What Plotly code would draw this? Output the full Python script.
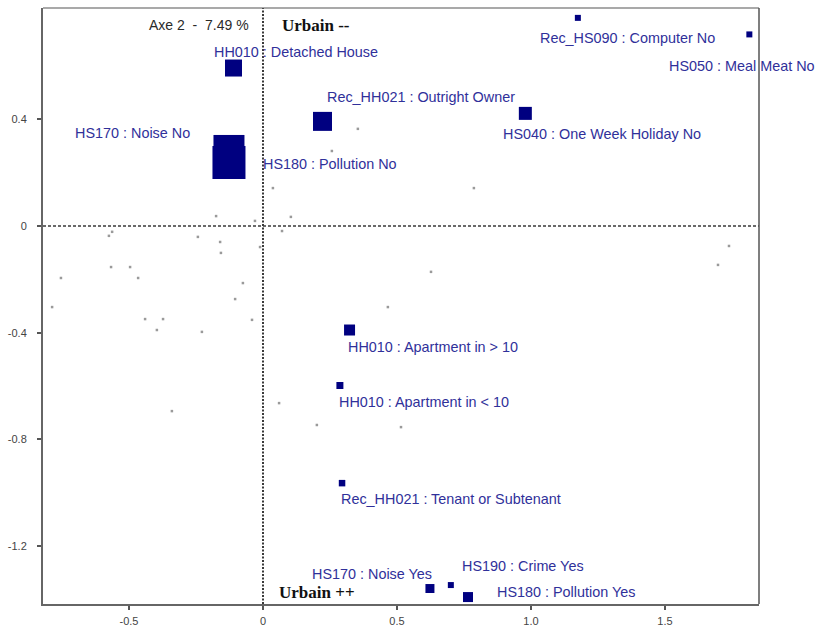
import plotly.graph_objects as go

# Active categories: coordinates on axes 1 and 2, marker size (px) and label offset
cat_labels = [
    "HH010 : Detached House",
    "Rec_HH021 : Outright Owner",
    "HS170 : Noise No",
    "HS180 : Pollution No",
    "HS040 : One Week Holiday No",
    "Rec_HS090 : Computer No",
    "HS050 : Meal Meat No",
    "HH010 : Apartment in > 10",
    "HH010 : Apartment in < 10",
    "Rec_HH021 : Tenant or Subtenant",
    "HS170 : Noise Yes",
    "HS190 : Crime Yes",
    "HS180 : Pollution Yes",
]
cat_x = [-0.110, 0.222, -0.127, -0.127, 0.979, 1.175, 1.815, 0.323, 0.287, 0.295, 0.623, 0.701, 0.765]
cat_y = [0.592, 0.392, 0.283, 0.238, 0.422, 0.780, 0.718, -0.390, -0.598, -0.964, -1.359, -1.346, -1.391]
cat_size = [17, 19, 31, 33, 13, 6, 6, 11, 7, 6.5, 9, 6, 10]

# Label placement: anchor side and pixel shift from the marker centre
lab_anchor = ["left", "left", "right", "left", "left", "left", "left",
              "left", "left", "left", "right", "left", "left"]
lab_dx = [-21.5, 2.5, -37, 32, -24.5, -40, -82.5, -3.5, -3, -3, 4, 9, 27]
lab_dy = [-16, -24.5, -17.5, 1.5, 20.5, 20, 31.5, 17, 16.5, 16, -14.5, -19, -5]

# Supplementary (small grey) points
sup_x = [0.354, 0.257, 0.037, -0.175, -0.030, 0.104, 0.071, -0.563, -0.575, -0.243,
         -0.160, -0.157, -0.011, -0.567, -0.496, -0.754, -0.466, -0.075, -0.104, -0.787,
         -0.440, -0.373, -0.396, -0.228, -0.041, 0.466, 0.060, -0.340, 0.201, 0.515,
         1.739, 1.698, 0.627, 0.787]
sup_y = [0.364, 0.281, 0.142, 0.037, 0.019, 0.034, -0.019, -0.022, -0.037, -0.041,
         -0.060, -0.101, -0.079, -0.154, -0.154, -0.195, -0.195, -0.214, -0.274, -0.304,
         -0.349, -0.349, -0.390, -0.397, -0.352, -0.304, -0.664, -0.694, -0.746, -0.754,
         -0.075, -0.146, -0.172, 0.142]

x_ticks = [-0.5, 0, 0.5, 1.0, 1.5]
x_tick_text = ["-0.5", "0", "0.5", "1.0", "1.5"]
y_ticks = [0.4, 0, -0.4, -0.8, -1.2]
y_tick_text = ["0.4", "0", "-0.4", "-0.8", "-1.2"]

x_range = [-0.821, 1.851]
y_range = [-1.417, 0.817]

NAVY = "#000080"
LABEL_COLOR = "#30309a"

fig = go.Figure()

fig.add_trace(go.Scatter(
    x=sup_x, y=sup_y, mode="markers",
    marker=dict(symbol="square", size=2.5, color="#9a9a9a", opacity=1, line=dict(width=0)),
    hoverinfo="skip", showlegend=False,
))

fig.add_trace(go.Scatter(
    x=cat_x, y=cat_y, mode="markers",
    marker=dict(symbol="square", size=cat_size, color=NAVY, opacity=1, line=dict(width=0)),
    text=cat_labels, hoverinfo="text", showlegend=False,
))

annotations = []
for lab, x, y, anc, dx, dy in zip(cat_labels, cat_x, cat_y, lab_anchor, lab_dx, lab_dy):
    annotations.append(dict(
        x=x, y=y, xref="x", yref="y", text=lab, showarrow=False,
        xanchor=anc, yanchor="middle", xshift=dx, yshift=-dy,
        font=dict(family="Liberation Sans, Arial, sans-serif", size=14.4, color=LABEL_COLOR),
    ))

# Axis captions around the origin lines
annotations.append(dict(
    x=0, y=1, xref="x", yref="paper", text="Axe 2\u00a0\u00a0-\u00a0\u00a07.49 %",
    showarrow=False, xanchor="right", yanchor="middle", xshift=-12, yshift=-17,
    font=dict(family="Liberation Sans, Arial, sans-serif", size=14, color="#2a2a2a"),
))
annotations.append(dict(
    x=0, y=1, xref="x", yref="paper", text="<b>Urbain --</b>",
    showarrow=False, xanchor="left", yanchor="middle", xshift=17, yshift=-17,
    font=dict(family="Liberation Serif, Times New Roman, serif", size=17, color="#111111"),
))
annotations.append(dict(
    x=0, y=0, xref="x", yref="paper", text="<b>Urbain ++</b>",
    showarrow=False, xanchor="left", yanchor="middle", xshift=14, yshift=12,
    font=dict(family="Liberation Serif, Times New Roman, serif", size=17, color="#111111"),
))

shapes = [
    # vertical origin line (dotted)
    dict(type="line", xref="x", yref="paper", x0=0, x1=0, y0=0, y1=1,
         line=dict(color="#3a3a3a", width=2, dash="2px,1.5px"), layer="below"),
    # horizontal origin line (short dashes)
    dict(type="line", xref="paper", yref="y", x0=0, x1=1, y0=0, y1=0,
         line=dict(color="#3a3a3a", width=1.5, dash="3px,2px"), layer="below"),
    # thin top and right frame
    dict(type="line", xref="paper", yref="paper", x0=0, x1=1, y0=1, y1=1,
         line=dict(color="#555555", width=1.2)),
    dict(type="line", xref="paper", yref="paper", x0=1, x1=1, y0=0, y1=1,
         line=dict(color="#555555", width=1.5), layer="below"),
]

tick_font = dict(family="Liberation Sans, Arial, sans-serif", size=11, color="#444444")

fig.update_layout(
    width=815, height=628,
    margin=dict(l=43, r=56, t=8, b=24),
    paper_bgcolor="white", plot_bgcolor="white",
    annotations=annotations, shapes=shapes,
    xaxis=dict(range=x_range, tickvals=x_ticks, ticktext=x_tick_text, automargin=False,
               showgrid=False, zeroline=False, showline=True, linecolor="#666666",
               linewidth=2, ticks="outside", ticklen=4, tickwidth=2, tickcolor="#555555",
               tickfont=tick_font, ticklabelstandoff=2),
    yaxis=dict(range=y_range, tickvals=y_ticks, ticktext=y_tick_text, automargin=False,
               showgrid=False, zeroline=False, showline=True, linecolor="#666666",
               linewidth=2, ticks="outside", ticklen=4, tickwidth=2, tickcolor="#555555",
               tickfont=tick_font, ticklabelstandoff=8),
    showlegend=False,
)

fig.write_html("out.html")
